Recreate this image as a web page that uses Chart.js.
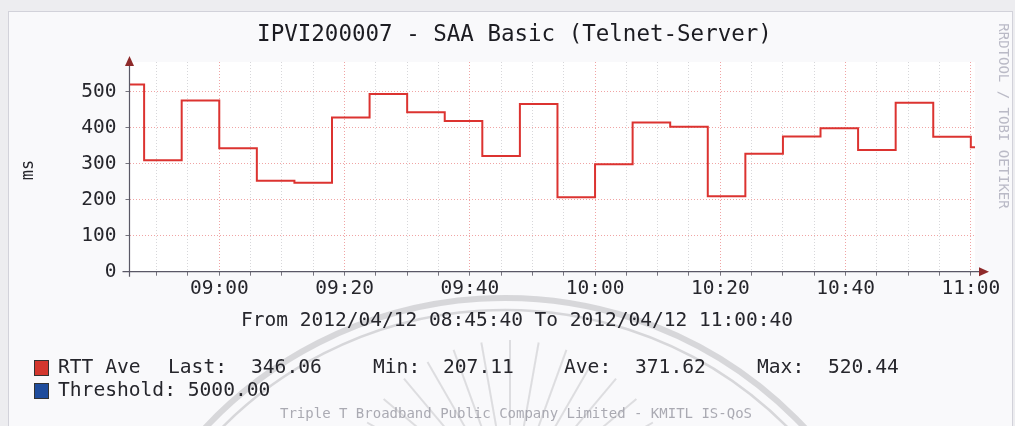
<!DOCTYPE html>
<html>
<head>
<meta charset="utf-8">
<script src="https://cdn.jsdelivr.net/npm/chart.js@4.4.1/dist/chart.umd.min.js"></script>
<style>
  html, body { margin: 0; padding: 0; background: #f2f2f4; }
  #c { display: block; }
</style>
</head>
<body>
<canvas id="c" width="1015" height="426"></canvas>
<script>
// RTT samples (step starts)
const sampleTimes = ['08:45:40', '08:48', '08:54', '09:00', '09:06', '09:12', '09:18', '09:24', '09:30',
  '09:36', '09:42', '09:48', '09:54', '10:00', '10:06', '10:12', '10:18', '10:24', '10:30', '10:36',
  '10:42', '10:48', '10:54', '11:00', '11:00:40'];
const rttValues = [520.44, 310, 476, 343, 253, 247, 429, 494, 443, 419, 322, 466, 207.11, 299, 415,
  403, 210, 328, 376, 399, 338, 470, 375, 346.06, 346.06];

const xLabels = ['09:00', '09:20', '09:40', '10:00', '10:20', '10:40', '11:00'];
const yLabels = [0, 100, 200, 300, 400, 500];

const statNames = ['Last', 'Min', 'Ave', 'Max'];
const statValues = [346.06, 207.11, 371.62, 520.44];
const thresholdValue = 5000;

const titleText = 'IPVI200007 - SAA Basic (Telnet-Server)';
const rangeText = 'From 2012/04/12 08:45:40 To 2012/04/12 11:00:40';
const footerText = 'Triple T Broadband Public Company Limited - KMITL IS-QoS';
const sideText = 'RRDTOOL / TOBI OETIKER';

const MONO = '"DejaVu Sans Mono", "Liberation Mono", monospace';
const MAJOR = 'rgba(228, 90, 90, 0.55)';
const MINOR = 'rgba(140, 140, 150, 0.35)';
const TEXT = '#26262c';

function toMin(t) {
    const p = t.split(':').map(Number);
    return p[0] * 60 + p[1] + (p[2] || 0) / 60;
}

const xMin = toMin(sampleTimes[0]);
const xMax = toMin(sampleTimes[sampleTimes.length - 1]);
const majorX = xLabels.map(toMin);

function fmt(m) {
    const h = Math.floor(m / 60), mm = Math.round(m % 60);
    return String(h).padStart(2, '0') + ':' + String(mm).padStart(2, '0');
}

// background, box and the faint logo watermark
const backdrop = {
    id: 'backdrop',
    beforeDraw(chart) {
        const { ctx, chartArea: a } = chart;
        ctx.save();
        ctx.fillStyle = '#ededf0';
        ctx.fillRect(0, 0, chart.width, chart.height);
        ctx.fillStyle = '#f9f9fb';
        ctx.fillRect(8, 11, 1004, 420);
        ctx.strokeStyle = '#d2d2da';
        ctx.lineWidth = 1;
        ctx.strokeRect(8.5, 11.5, 1004, 420);

        // watermark arcs + rays
        ctx.strokeStyle = 'rgba(150, 150, 155, 0.34)';
        ctx.lineWidth = 6;
        ctx.beginPath();
        ctx.arc(505, 709, 411, Math.PI * 1.1, Math.PI * 1.9);
        ctx.stroke();
        ctx.lineWidth = 2.5;
        ctx.beginPath();
        ctx.arc(505, 709, 399, Math.PI * 1.1, Math.PI * 1.9);
        ctx.stroke();
        ctx.lineWidth = 2;
        ctx.strokeStyle = 'rgba(150, 150, 155, 0.28)';
        for (let k = 0; k < 15; k++) {
            const ang = (-160 + k * 10) * Math.PI / 180;
            ctx.beginPath();
            ctx.moveTo(510 + Math.cos(ang) * 80, 505 + Math.sin(ang) * 80);
            ctx.lineTo(510 + Math.cos(ang) * 165, 505 + Math.sin(ang) * 165);
            ctx.stroke();
        }

        ctx.fillStyle = '#ffffff';
        ctx.fillRect(a.left, a.top, a.right - a.left, a.bottom - a.top);
        ctx.restore();
    }
};

// axis lines with arrows, labels and legend text
const decor = {
    id: 'decor',
    afterDraw(chart) {
        const { ctx, chartArea: a } = chart;
        ctx.save();
        ctx.strokeStyle = '#5a5866';
        ctx.lineWidth = 1.2;
        ctx.beginPath();
        ctx.moveTo(a.left - 7, a.bottom);
        ctx.lineTo(a.right + 6, a.bottom);
        ctx.moveTo(a.left, a.bottom + 5);
        ctx.lineTo(a.left, a.top - 2);
        ctx.stroke();
        ctx.fillStyle = '#8e2a2a';
        ctx.beginPath();
        ctx.moveTo(a.right + 14, a.bottom);
        ctx.lineTo(a.right + 4, a.bottom - 4.5);
        ctx.lineTo(a.right + 4, a.bottom + 4.5);
        ctx.fill();
        ctx.beginPath();
        ctx.moveTo(a.left, a.top - 6);
        ctx.lineTo(a.left - 4.5, a.top + 4);
        ctx.lineTo(a.left + 4.5, a.top + 4);
        ctx.fill();

        ctx.fillStyle = TEXT;
        ctx.textBaseline = 'middle';

        // y unit
        ctx.save();
        ctx.translate(29, 170);
        ctx.rotate(-Math.PI / 2);
        ctx.textAlign = 'center';
        ctx.font = '17px ' + MONO;
        ctx.fillText('ms', 0, 0);
        ctx.restore();

        ctx.textAlign = 'center';
        ctx.font = '19.5px ' + MONO;
        ctx.fillText(rangeText, 517, 321);

        // legend
        ctx.textAlign = 'left';
        ctx.font = '19.6px ' + MONO;
        const nameX = [168, 373, 564, 757];
        const valX = [251, 443, 635, 828];
        ctx.fillText('RTT Ave', 58, 368);
        statNames.forEach((n, i) => {
            ctx.fillText(n + ':', nameX[i], 368);
            ctx.fillText(statValues[i].toFixed(2), valX[i], 368);
        });
        ctx.fillText('Threshold: ' + thresholdValue.toFixed(2), 58, 391);
        ctx.fillStyle = '#d3372e';
        ctx.fillRect(34, 360, 14, 15);
        ctx.fillStyle = '#1f4c9c';
        ctx.fillRect(34, 383, 14, 15);
        ctx.strokeStyle = '#333';
        ctx.lineWidth = 1;
        ctx.strokeRect(34.5, 360.5, 14, 15);
        ctx.strokeRect(34.5, 383.5, 14, 15);

        ctx.fillStyle = 'rgba(150, 150, 160, 0.8)';
        ctx.textAlign = 'center';
        ctx.font = '14px ' + MONO;
        ctx.fillText(footerText, 516, 414);

        ctx.save();
        ctx.translate(1003, 116);
        ctx.rotate(Math.PI / 2);
        ctx.fillStyle = 'rgba(170, 170, 185, 0.8)';
        ctx.font = '14px ' + MONO;
        ctx.fillText(sideText, 0, 0);
        ctx.restore();
        ctx.restore();
    }
};

const chart = new Chart(document.getElementById('c'), {
    type: 'line',
    data: {
        datasets: [{
            label: 'RTT Ave',
            data: sampleTimes.map((t, i) => ({ x: toMin(t), y: rttValues[i] })),
            borderColor: '#dc3330',
            borderWidth: 2,
            pointRadius: 0,
            stepped: true,
            fill: false
        }]
    },
    options: {
        responsive: false,
        animation: false,
        devicePixelRatio: 1,
        layout: { padding: { left: 54, right: 40, top: 0, bottom: 0 } },
        plugins: {
            legend: { display: false },
            tooltip: { enabled: false },
            title: {
                display: true,
                text: titleText,
                color: '#1c1c22',
                font: { family: MONO, size: 22.5, weight: 'normal', lineHeight: 1.2 },
                padding: { top: 22, bottom: 13 }
            }
        },
        scales: {
            x: {
                type: 'linear',
                min: xMin,
                max: xMax,
                afterBuildTicks: s => {
                    const t = [];
                    for (let m = Math.ceil(xMin / 5) * 5; m <= xMax; m += 5) t.push({ value: m });
                    s.ticks = t;
                },
                afterFit: s => { s.height = 154.3; },
                grid: {
                    color: c => majorX.includes(c.tick && c.tick.value) ? MAJOR : MINOR,
                    tickColor: '#77757f',
                    tickLength: 4
                },
                border: { display: false, dash: [1, 2] },
                ticks: {
                    autoSkip: false,
                    maxRotation: 0,
                    minRotation: 0,
                    padding: 2,
                    color: TEXT,
                    font: { family: MONO, size: 19.5 },
                    callback: v => majorX.includes(v) ? fmt(v) : ''
                }
            },
            y: {
                min: 0,
                max: 583,
                afterBuildTicks: s => {
                    const t = [];
                    yLabels.forEach(v => { t.push({ value: v }); t.push({ value: v + 50 }); });
                    s.ticks = t;
                },
                afterFit: s => { s.width = 75.5; },
                grid: {
                    color: c => yLabels.includes(c.tick && c.tick.value) ? MAJOR : MINOR,
                    tickColor: '#77757f',
                    tickLength: 4
                },
                border: { display: false, dash: [1, 2] },
                ticks: {
                    padding: 9,
                    color: TEXT,
                    font: { family: MONO, size: 19.5 },
                    callback: v => yLabels.includes(v) ? v : ''
                }
            }
        }
    },
    plugins: [backdrop, decor]
});
</script>
</body>
</html>
